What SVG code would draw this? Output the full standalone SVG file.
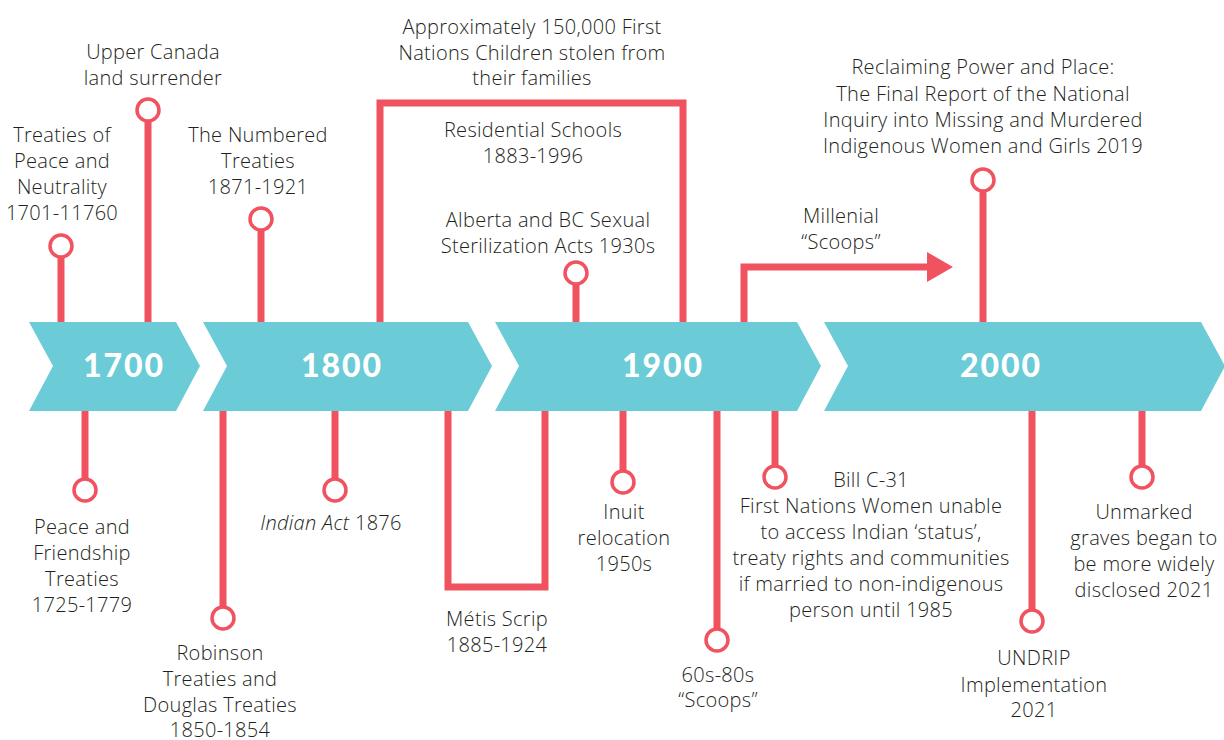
<svg xmlns="http://www.w3.org/2000/svg" width="1224" height="740" viewBox="0 0 1224 740">
  <style>
    .band { fill: #6BCBD7; }
    .year { font-family: Lato, "Open Sans", sans-serif; font-weight: 900; font-size: 32px; fill: #ffffff; text-anchor: middle; letter-spacing: 2px; }
    .stem { stroke: #F0525F; stroke-width: 7; fill: none; }
    .pin { stroke: #F0525F; stroke-width: 3.5; fill: #ffffff; }
    .lbl { font-family: "Open Sans", "Liberation Sans", sans-serif; font-weight: 300; font-size: 20px; letter-spacing: 0.3px; fill: #231F20; text-anchor: middle; }
    .arrowhead { fill: #F0525F; }
  </style>
  <rect width="1224" height="740" fill="#ffffff"/>

  <!-- Century chevrons -->
  <g id="era-1700">
    <polygon class="band" points="29,322 176,322 200,366 176,411 29,411 53,366"/>
    <text class="year" x="124" y="377">1700</text>
  </g>
  <g id="era-1800">
    <polygon class="band" points="203,322 468,322 492,366 468,411 203,411 227,366"/>
    <text class="year" x="342" y="377">1800</text>
  </g>
  <g id="era-1900">
    <polygon class="band" points="495,322 797,322 821,366 797,411 495,411 519,366"/>
    <text class="year" x="663" y="377">1900</text>
  </g>
  <g id="era-2000">
    <polygon class="band" points="824,322 1201,322 1225,366 1201,411 824,411 848,366"/>
    <text class="year" x="1001" y="377">2000</text>
  </g>

  <!-- Stems and spans -->
  <g id="connectors">
    <line class="stem" x1="61" y1="246" x2="61" y2="322"/>
    <line class="stem" x1="148" y1="110" x2="148" y2="322"/>
    <line class="stem" x1="261" y1="219" x2="261" y2="322"/>
    <line class="stem" x1="576" y1="273" x2="576" y2="322"/>
    <line class="stem" x1="983" y1="180" x2="983" y2="322"/>
    <path class="stem" d="M380,322 V103 H683 V322"/>
    <path class="stem" d="M744,322 V267 H929"/>
    <polygon class="arrowhead" points="927,252 953,267 927,282"/>

    <line class="stem" x1="85" y1="411" x2="85" y2="490"/>
    <line class="stem" x1="223" y1="411" x2="223" y2="618"/>
    <line class="stem" x1="335" y1="411" x2="335" y2="490"/>
    <path class="stem" d="M448,411 V587 H545 V411"/>
    <line class="stem" x1="623" y1="411" x2="623" y2="482"/>
    <line class="stem" x1="717" y1="411" x2="717" y2="640"/>
    <line class="stem" x1="775" y1="411" x2="775" y2="477"/>
    <line class="stem" x1="1032" y1="411" x2="1032" y2="621"/>
    <line class="stem" x1="1142" y1="411" x2="1142" y2="477"/>
  </g>

  <!-- Events above the line -->
  <g id="treaties-peace-neutrality">
    <circle class="pin" cx="61" cy="246" r="11"/>
    <text class="lbl" x="62" y="142">Treaties of</text>
    <text class="lbl" x="62" y="168">Peace and</text>
    <text class="lbl" x="62" y="194">Neutrality</text>
    <text class="lbl" x="62" y="220">1701-11760</text>
  </g>
  <g id="upper-canada">
    <circle class="pin" cx="148" cy="110" r="11"/>
    <text class="lbl" x="153" y="59">Upper Canada</text>
    <text class="lbl" x="153" y="85">land surrender</text>
  </g>
  <g id="numbered-treaties">
    <circle class="pin" cx="261" cy="219" r="11"/>
    <text class="lbl" x="258" y="142">The Numbered</text>
    <text class="lbl" x="258" y="168">Treaties</text>
    <text class="lbl" x="258" y="194">1871-1921</text>
  </g>
  <g id="residential-schools">
    <text class="lbl" x="532" y="34">Approximately 150,000 First</text>
    <text class="lbl" x="532" y="60">Nations Children stolen from</text>
    <text class="lbl" x="532" y="85">their families</text>
    <text class="lbl" x="533" y="137">Residential Schools</text>
    <text class="lbl" x="533" y="163">1883-1996</text>
  </g>
  <g id="sterilization-acts">
    <circle class="pin" cx="576" cy="273" r="11"/>
    <text class="lbl" x="548" y="227">Alberta and BC Sexual</text>
    <text class="lbl" x="548" y="253">Sterilization Acts 1930s</text>
  </g>
  <g id="millenial-scoops">
    <text class="lbl" x="841" y="223">Millenial</text>
    <text class="lbl" x="841" y="249">“Scoops”</text>
  </g>
  <g id="reclaiming-power">
    <circle class="pin" cx="983" cy="180" r="11"/>
    <text class="lbl" x="983" y="74">Reclaiming Power and Place:</text>
    <text class="lbl" x="983" y="101">The Final Report of the National</text>
    <text class="lbl" x="983" y="127">Inquiry into Missing and Murdered</text>
    <text class="lbl" x="983" y="153">Indigenous Women and Girls 2019</text>
  </g>

  <!-- Events below the line -->
  <g id="peace-friendship">
    <circle class="pin" cx="85" cy="490" r="11"/>
    <text class="lbl" x="82" y="534">Peace and</text>
    <text class="lbl" x="82" y="560">Friendship</text>
    <text class="lbl" x="82" y="586">Treaties</text>
    <text class="lbl" x="82" y="612">1725-1779</text>
  </g>
  <g id="robinson-douglas">
    <circle class="pin" cx="223" cy="618" r="11"/>
    <text class="lbl" x="220" y="660">Robinson</text>
    <text class="lbl" x="220" y="686">Treaties and</text>
    <text class="lbl" x="220" y="712">Douglas Treaties</text>
    <text class="lbl" x="220" y="737">1850-1854</text>
  </g>
  <g id="indian-act">
    <circle class="pin" cx="335" cy="490" r="11"/>
    <text class="lbl" x="331" y="530"><tspan font-style="italic">Indian Act</tspan> 1876</text>
  </g>
  <g id="metis-scrip">
    <text class="lbl" x="497" y="626">Métis Scrip</text>
    <text class="lbl" x="497" y="652">1885-1924</text>
  </g>
  <g id="inuit-relocation">
    <circle class="pin" cx="623" cy="482" r="11"/>
    <text class="lbl" x="624" y="519">Inuit</text>
    <text class="lbl" x="624" y="545">relocation</text>
    <text class="lbl" x="624" y="571">1950s</text>
  </g>
  <g id="sixties-scoop">
    <circle class="pin" cx="717" cy="640" r="11"/>
    <text class="lbl" x="718" y="682">60s-80s</text>
    <text class="lbl" x="718" y="707">“Scoops”</text>
  </g>
  <g id="bill-c31">
    <circle class="pin" cx="775" cy="477" r="11"/>
    <text class="lbl" x="871" y="487">Bill C-31</text>
    <text class="lbl" x="871" y="513">First Nations Women unable</text>
    <text class="lbl" x="871" y="539">to access Indian ‘status’,</text>
    <text class="lbl" x="871" y="565">treaty rights and communities</text>
    <text class="lbl" x="871" y="591">if married to non-indigenous</text>
    <text class="lbl" x="871" y="617">person until 1985</text>
  </g>
  <g id="undrip">
    <circle class="pin" cx="1032" cy="621" r="11"/>
    <text class="lbl" x="1034" y="665">UNDRIP</text>
    <text class="lbl" x="1034" y="692">Implementation</text>
    <text class="lbl" x="1034" y="717">2021</text>
  </g>
  <g id="unmarked-graves">
    <circle class="pin" cx="1142" cy="477" r="11"/>
    <text class="lbl" x="1144" y="519">Unmarked</text>
    <text class="lbl" x="1144" y="545">graves began to</text>
    <text class="lbl" x="1144" y="571">be more widely</text>
    <text class="lbl" x="1144" y="597">disclosed 2021</text>
  </g>
</svg>
